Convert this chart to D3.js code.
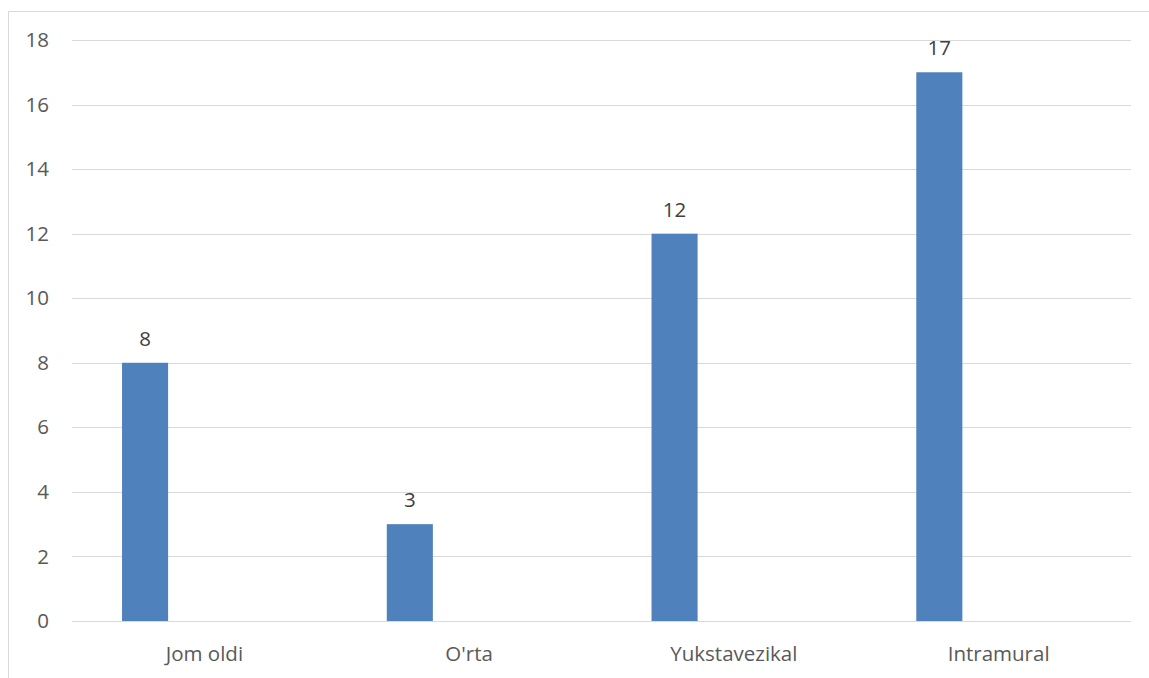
<!DOCTYPE html>
<html><head><meta charset="utf-8">
<script src="https://cdn.jsdelivr.net/npm/d3@7"></script>
<style>body{margin:0;background:#fff;}svg{display:block;font-family:"Open Sans",sans-serif;}</style>
</head><body>
<svg id="c" width="1149" height="678"></svg>
<script>
const categories = ["Jom oldi", "O'rta", "Yukstavezikal", "Intramural"];
const values = [8, 3, 12, 17];
const yTicks = [0, 2, 4, 6, 8, 10, 12, 14, 16, 18];

(function () {
const svg = d3.select("#c");
const mLeft = 72, mRight = 1131, mTop = 40, mBottom = 621;
const FONT = "'Open Sans',sans-serif", FS = "20.5px";

// outer chart border
svg.append("path").attr("d", "M8.5,678 L8.5,11.5 L1149,11.5").attr("fill", "none").attr("stroke", "#d9d9d9").attr("stroke-width", 1);

const x = d3.scaleBand().domain(categories).range([mLeft, mRight]).padding(0);
const y = d3.scaleLinear().domain([0, 18]).range([mBottom, mTop]);

// gridlines
svg.append("g").selectAll("line").data(yTicks).join("line")
  .attr("x1", mLeft).attr("x2", mRight)
  .attr("y1", d => Math.round(y(d)) + 0.5).attr("y2", d => Math.round(y(d)) + 0.5)
  .attr("stroke", "#d9d9d9").attr("stroke-width", 1);

// y axis labels
const yAxis = d3.axisLeft(y).tickValues(yTicks).tickSize(0).tickPadding(0);
const ga = svg.append("g").attr("transform", "translate(49,0)").call(yAxis);
ga.select(".domain").remove();
ga.selectAll("text").attr("fill", "#595959").style("font-size", FS).style("font-family", FONT);

// x axis labels
const xAxis = d3.axisBottom(x).tickSize(0).tickPadding(0);
const gx = svg.append("g").attr("transform", "translate(0,661)").call(xAxis);
gx.select(".domain").remove();
gx.selectAll("text").attr("dy", 0).attr("fill", "#595959").style("font-size", FS).style("font-family", FONT);

// bars
const bw = x.bandwidth();
const offset = bw * 0.189, barW = bw * 0.174;
svg.append("g").selectAll("rect").data(values).join("rect")
  .attr("x", (d, i) => x(categories[i]) + offset)
  .attr("y", d => y(d))
  .attr("width", barW)
  .attr("height", d => y(0) - y(d))
  .attr("fill", "#4F81BD");

// value labels
svg.append("g").selectAll("text").data(values).join("text")
  .attr("x", (d, i) => x(categories[i]) + offset + barW / 2)
  .attr("y", d => y(d) - 17)
  .attr("text-anchor", "middle")
  .attr("fill", "#404040")
  .style("font-size", FS)
  .style("font-family", FONT)
  .text(d => d);
})();
</script>
</body></html>
